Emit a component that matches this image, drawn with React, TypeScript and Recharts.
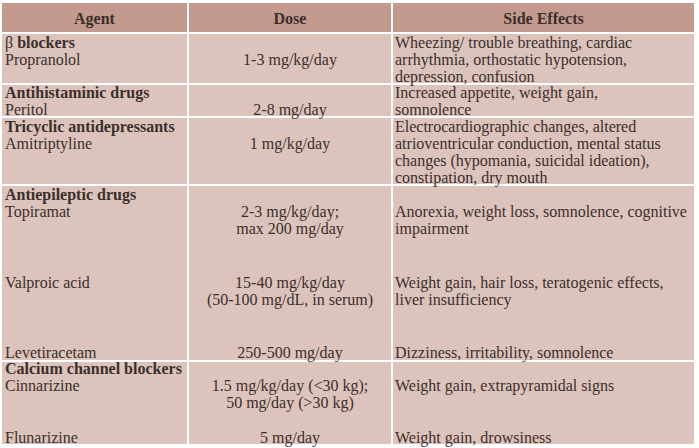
import React from "react";
import { ScatterChart, Scatter, XAxis, YAxis, ReferenceArea } from "recharts";

// ---- data ----
const headers = ["Agent", "Dose", "Side Effects"];
const groups = [
  "β blockers",
  "Antihistaminic drugs",
  "Tricyclic antidepressants",
  "Antiepileptic drugs",
  "Calcium channel blockers",
];
const agents = [
  "Propranolol",
  "Peritol",
  "Amitriptyline",
  "Topiramat",
  "Valproic acid",
  "Levetiracetam",
  "Cinnarizine",
  "Flunarizine",
];
const doses = [
  ["1-3 mg/kg/day"],
  ["2-8 mg/day"],
  ["1 mg/kg/day"],
  ["2-3 mg/kg/day;", "max 200 mg/day"],
  ["15-40 mg/kg/day", "(50-100 mg/dL, in serum)"],
  ["250-500 mg/day"],
  ["1.5 mg/kg/day (<30 kg);", "50 mg/day (>30 kg)"],
  ["5 mg/day"],
];
const sideEffects = [
  ["Wheezing/ trouble breathing, cardiac", "arrhythmia, orthostatic hypotension,", "depression, confusion"],
  ["Increased appetite, weight gain,", "somnolence"],
  ["Electrocardiographic changes, altered", "atrioventricular conduction, mental status", "changes (hypomania, suicidal ideation),", "constipation, dry mouth"],
  ["Anorexia, weight loss, somnolence, cognitive", "impairment"],
  ["Weight gain, hair loss, teratogenic effects,", "liver insufficiency"],
  ["Dizziness, irritability, somnolence"],
  ["Weight gain, extrapyramidal signs"],
  ["Weight gain, drowsiness"],
];
// which group each agent belongs to
const agentGroup = [0, 1, 2, 3, 3, 3, 4, 4];

// ---- layout (table geometry in chart units = px) ----
const W = 699;
const H = 448;
const colEdges = [1, 188, 392, 695];
const headerBand = [2, 33];
const groupBands = [
  [33, 84],
  [84, 117],
  [117, 185],
  [185, 361],
  [361, 445],
];
const groupLineY = [42.5, 92, 126, 194, 368.5];
const agentLineY = [59.5, 109, 143, 211, 282, 352.5, 385, 437.5];
const LINE = 17;
const HEADER_Y = 18;
const AGENT_X = 5;
const DOSE_X = 290;
const SE_X = 395;

const HEADER_FILL = "#c49a8e";
const BODY_FILL = "#dcc4bd";
const TEXT = "#3b2f2b";
const FONT = "Liberation Serif, DejaVu Serif, serif";

type P = { x: number; y: number; text: string; bold?: boolean; anchor?: string; plainPrefix?: string };

const points: P[] = [];
headers.forEach((h, i) => {
  points.push({ x: (colEdges[i] + colEdges[i + 1]) / 2, y: HEADER_Y, text: h, bold: true, anchor: "middle" });
});
groups.forEach((g, i) => {
  if (g.startsWith("β ")) {
    points.push({ x: AGENT_X, y: groupLineY[i], text: g.slice(2), bold: true, anchor: "start", plainPrefix: "β " });
  } else {
    points.push({ x: AGENT_X, y: groupLineY[i], text: g, bold: true, anchor: "start" });
  }
});
agents.forEach((a, i) => {
  const y0 = agentLineY[i];
  points.push({ x: AGENT_X, y: y0, text: a, anchor: "start" });
  doses[i].forEach((d, k) => points.push({ x: DOSE_X, y: y0 + k * LINE, text: d, anchor: "middle" }));
  const firstInGroup = agentGroup.indexOf(agentGroup[i]) === i;
  const seStart = firstInGroup && i < 3 ? groupLineY[agentGroup[i]] : y0;
  sideEffects[i].forEach((s, k) => points.push({ x: SE_X, y: seStart + k * LINE, text: s, anchor: "start" }));
});

const TextShape = (props: any) => {
  const { cx, cy, payload } = props;
  return (
    <text
      x={cx}
      y={cy}
      dy="0.35em"
      textAnchor={payload.anchor}
      style={{ fontFamily: FONT, fontSize: 16 }}
      fill={TEXT}
    >
      {payload.plainPrefix ? <tspan fontWeight="normal">{payload.plainPrefix}</tspan> : null}
      <tspan fontWeight={payload.bold ? "bold" : "normal"}>{payload.text}</tspan>
    </text>
  );
};

export default function App() {
  return (
    <div style={{ position: "absolute", left: 0, top: 0, width: W, height: H, background: "#fff" }}>
      <ScatterChart width={W} height={H} margin={{ top: 0, right: 0, bottom: 0, left: 0 }}>
        <XAxis type="number" dataKey="x" domain={[0, W]} hide allowDataOverflow />
        <YAxis type="number" dataKey="y" domain={[0, H]} reversed hide allowDataOverflow />
        {headers.map((h, i) => (
          <ReferenceArea
            key={"h" + i}
            x1={colEdges[i]}
            x2={colEdges[i + 1]}
            y1={headerBand[0]}
            y2={headerBand[1]}
            fill={HEADER_FILL}
            fillOpacity={1}
            stroke="#ffffff"
            strokeWidth={2}
            ifOverflow="visible"
          />
        ))}
        {groupBands.map((b, r) =>
          headers.map((h, i) => (
            <ReferenceArea
              key={"b" + r + "-" + i}
              x1={colEdges[i]}
              x2={colEdges[i + 1]}
              y1={b[0]}
              y2={b[1]}
              fill={BODY_FILL}
              fillOpacity={1}
              stroke="#ffffff"
              strokeWidth={2}
              ifOverflow="visible"
            />
          ))
        )}
        <Scatter data={points} shape={TextShape} isAnimationActive={false} />
      </ScatterChart>
    </div>
  );
}
